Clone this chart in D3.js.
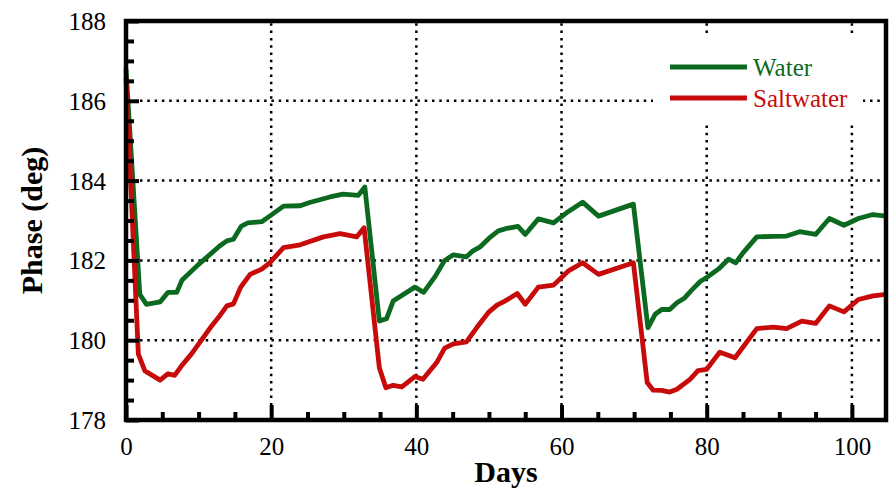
<!DOCTYPE html>
<html>
<head>
<meta charset="utf-8">
<script src="https://cdn.jsdelivr.net/npm/d3@7"></script>
<style>
  body { margin: 0; background: #fff; }
  svg, svg text { font-family: "Liberation Serif", Tinos, "Times New Roman", Times; }
</style>
</head>
<body>
<div id="chart"></div>
<script>
const waterDays = [0, 1.9, 2.8, 4.7, 5.8, 7.0, 7.7, 10.0, 12.9, 13.9, 14.8, 15.9, 16.8, 18.7, 19.8, 21.7, 24.0, 25.3, 28.1, 29.9, 32.0, 32.9,
    34.9, 35.9, 36.8, 39.8, 41.0, 42.6, 43.9, 45.1, 46.9, 47.8, 48.8, 50.1, 51.3, 52.4, 54.0, 55.0, 56.8, 58.9, 60.9, 62.9, 65.1, 69.9,
    71.9, 72.9, 73.8, 74.9, 75.9, 76.9, 77.9, 79.1, 80.0, 81.6, 83.0, 84.0, 85.0, 86.9, 89.2, 91.0, 92.8, 95.0, 96.9, 98.9, 100.9, 102.9, 104.7];
const waterPhase = [186.8, 181.15, 180.9, 180.96, 181.2, 181.2, 181.5, 181.9, 182.36, 182.49, 182.53, 182.86, 182.94, 182.97, 183.11, 183.36, 183.37, 183.45, 183.59, 183.66, 183.63, 183.84,
    180.48, 180.54, 180.98, 181.33, 181.2, 181.6, 182.0, 182.14, 182.09, 182.24, 182.34, 182.57, 182.74, 182.8, 182.85, 182.65, 183.04, 182.94, 183.22, 183.46, 183.11, 183.41,
    180.31, 180.65, 180.77, 180.77, 180.94, 181.05, 181.25, 181.47, 181.57, 181.78, 182.03, 181.94, 182.19, 182.59, 182.6, 182.61, 182.72, 182.65, 183.05, 182.88, 183.05, 183.15, 183.11];

const saltDays = [0, 1.7, 2.6, 4.7, 5.8, 6.7, 7.7, 9.0, 11.6, 12.9, 13.9, 14.8, 15.8, 17.1, 18.7, 19.8, 21.7, 24.0, 27.2, 29.5, 31.8, 32.8,
    34.9, 35.8, 36.8, 38.0, 39.8, 40.9, 42.8, 43.9, 45.1, 46.9, 48.3, 49.9, 51.1, 52.2, 53.9, 55.0, 56.8, 58.9, 60.9, 62.9, 65.1, 69.9,
    71.8, 72.6, 73.8, 74.9, 75.9, 77.7, 78.8, 80.0, 81.8, 83.9, 86.9, 89.2, 91.0, 93.1, 95.0, 96.9, 98.9, 100.9, 102.9, 104.7];
const saltPhase = [186.6, 179.65, 179.23, 179.0, 179.16, 179.12, 179.37, 179.65, 180.31, 180.61, 180.86, 180.91, 181.33, 181.65, 181.78, 181.94, 182.32, 182.39, 182.59, 182.67, 182.59, 182.82,
    179.31, 178.81, 178.87, 178.83, 179.09, 179.02, 179.44, 179.8, 179.91, 179.96, 180.31, 180.69, 180.88, 180.98, 181.17, 180.9, 181.33, 181.38, 181.73, 181.94, 181.65, 181.94,
    178.94, 178.75, 178.74, 178.70, 178.77, 179.02, 179.24, 179.27, 179.70, 179.56, 180.29, 180.33, 180.29, 180.48, 180.42, 180.86, 180.71, 181.02, 181.11, 181.15];

const xMajor = [0, 20, 40, 60, 80, 100];
const yMajor = [178, 180, 182, 184, 186, 188];
const seriesNames = ["Water", "Saltwater"];
const seriesColors = ["#0b6a1f", "#c70b0b"];

const FONT = "Liberation Serif";
const W = 890, H = 491;
const margin = {top: 21, right: 4, bottom: 71, left: 126};
const x0 = margin.left, x1 = W - margin.right,
    y0 = margin.top, y1 = H - margin.bottom;

const svg = d3.select("#chart")
    .append("svg")
    .attr("width", W)
    .attr("height", H)
    .attr("font-family", FONT);

const x = d3.scaleLinear().domain([0, 104.7]).range([x0, x1]);
const y = d3.scaleLinear().domain([178, 188]).range([y1, y0]);

// dotted grid
const grid = svg.append("g")
    .attr("stroke", "#000")
    .attr("stroke-width", 2.5)
    .attr("stroke-dasharray", "2.5,4.8");
grid.selectAll(".vg")
    .data(xMajor.filter(d => d > 0))
    .enter().append("line")
    .attr("x1", d => x(d)).attr("x2", d => x(d))
    .attr("y1", y1).attr("y2", y0);
grid.selectAll(".hg")
    .data(yMajor.filter(d => d > 178 && d < 188))
    .enter().append("line")
    .attr("x1", x0 + 14).attr("x2", x1)
    .attr("y1", d => y(d)).attr("y2", d => y(d));

// legend box hides the grid
const legend = svg.append("g");
legend.append("rect")
    .attr("x", 653).attr("y", 38)
    .attr("width", 210).attr("height", 85)
    .attr("fill", "#fff");

// lines
const data = [
    waterDays.map((d, i) => [d, waterPhase[i]]),
    saltDays.map((d, i) => [d, saltPhase[i]])
];
const line = d3.line().x(d => x(d[0])).y(d => y(d[1]));

svg.selectAll(".series")
    .data(data)
    .enter().append("path")
    .attr("class", "series")
    .attr("d", line)
    .attr("fill", "none")
    .attr("stroke", (d, i) => seriesColors[i])
    .attr("stroke-width", 4.8)
    .attr("stroke-linejoin", "round");

seriesNames.forEach((name, i) => {
    const ly = 67 + i * 31;
    legend.append("line")
        .attr("x1", 670).attr("x2", 747)
        .attr("y1", ly).attr("y2", ly)
        .attr("stroke", seriesColors[i])
        .attr("stroke-width", 4.8);
    legend.append("text")
        .attr("x", 753).attr("y", ly + 9)
        .attr("font-family", FONT)
        .attr("font-size", 25)
        .attr("fill", seriesColors[i])
        .text(name);
});

// axes, ticks inward
const xAxis = d3.axisBottom(x)
    .tickValues(d3.range(0, 105, 5))
    .tickSize(-8)
    .tickFormat(d => xMajor.includes(d) ? d : "");
const yAxis = d3.axisLeft(y)
    .tickValues(d3.range(178, 188.01, 0.5))
    .tickSize(-8)
    .tickFormat(d => yMajor.includes(d) ? d : "");

const gx = svg.append("g")
    .attr("transform", `translate(0,${y1})`)
    .call(xAxis);
const gy = svg.append("g")
    .attr("transform", `translate(${x0},0)`)
    .call(yAxis);

[gx, gy].forEach(g => {
    g.attr("font-family", FONT).attr("font-size", 25);
    g.select(".domain").remove();
    g.selectAll(".tick line").attr("stroke", "#000").attr("stroke-width", 4);
    g.selectAll(".tick text").attr("fill", "#000");
});
gx.selectAll(".tick line").filter(d => xMajor.includes(d)).attr("y2", -15);
gy.selectAll(".tick line").filter(d => yMajor.includes(d)).attr("x2", 13);
gx.selectAll(".tick text").attr("y", 17).attr("dy", "0.71em");
gy.selectAll(".tick text").attr("x", -20).attr("dy", "0.34em");

// frame
svg.append("rect")
    .attr("x", x0).attr("y", y0)
    .attr("width", x1 - x0).attr("height", y1 - y0)
    .attr("fill", "none")
    .attr("stroke", "#000")
    .attr("stroke-width", 4.5);

svg.append("text")
    .attr("x", (x0 + x1) / 2).attr("y", 482)
    .attr("text-anchor", "middle")
    .attr("font-family", FONT)
    .attr("font-size", 30)
    .attr("font-weight", "bold")
    .text("Days");

svg.append("text")
    .attr("transform", `translate(42,${(y0 + y1) / 2}) rotate(-90)`)
    .attr("text-anchor", "middle")
    .attr("font-family", FONT)
    .attr("font-size", 30)
    .attr("font-weight", "bold")
    .text("Phase (deg)");
</script>
</body>
</html>
